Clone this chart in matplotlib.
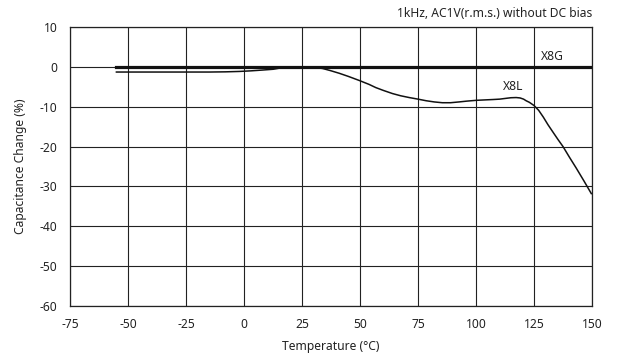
import matplotlib
matplotlib.use('Agg')
import matplotlib.pyplot as plt

# temperature characteristic
x8g_temp = [-55, 150]
x8g_cap = [0, 0]

x8l_temp = [-55, -40, -25, -15, -8, -2, 3, 8, 12.6, 15, 16.9, 18.5, 22, 26,
            28.8, 31, 33.8, 37, 41, 45, 49.6, 53.9, 56.8, 60, 64, 67.5, 71.2,
            75, 78.5, 82, 85.5, 89, 92.7, 96, 100, 103.5, 107.2, 110.2, 112.9,
            115, 117.3, 119, 120.5, 121.6, 123, 125, 127, 129, 131, 133.2,
            135.3, 137.5, 140.3, 143.2, 146.5, 149.7]
x8l_cap = [-1.3, -1.3, -1.3, -1.3, -1.25, -1.15, -1.0, -0.8, -0.6, -0.35,
           -0.12, -0.02, 0, 0, -0.05, -0.2, -0.4, -0.9, -1.6, -2.4, -3.4,
           -4.4, -5.2, -5.9, -6.7, -7.25, -7.7, -8.1, -8.5, -8.8, -9.0, -9.0,
           -8.8, -8.6, -8.4, -8.3, -8.2, -8.1, -7.9, -7.75, -7.7, -7.8, -8.1,
           -8.5, -8.9, -9.7, -10.9, -12.6, -14.5, -16.4, -18.2, -20.0, -22.7,
           -25.4, -28.6, -31.8]

xticks = [-75, -50, -25, 0, 25, 50, 75, 100, 125, 150]
yticks = [10, 0, -10, -20, -30, -40, -50, -60]

plt.rcParams['font.family'] = ['Noto Sans', 'DejaVu Sans']
plt.rcParams['axes.unicode_minus'] = False

fs = 8.7
fig = plt.figure(figsize=(6.19, 3.6), dpi=100)
ax = fig.add_axes([0.1131, 0.15, 0.8433, 0.775])

ax.plot(x8g_temp, x8g_cap, color='#111111', linewidth=2.3, zorder=4)
ax.plot(x8l_temp, x8l_cap, color='#111111', linewidth=1.1, zorder=3,
        solid_joinstyle='round')

ax.set_xlim(-75, 150)
ax.set_ylim(-60, 10)
ax.set_xticks(xticks)
ax.set_yticks(yticks)
ax.grid(True, color='#222222', linewidth=0.8)
ax.set_axisbelow(True)
ax.tick_params(length=0, pad=9, labelsize=fs, colors='#222222')
for s in ax.spines.values():
    s.set_color('#222222')
    s.set_linewidth(0.9)

ax.text(133, 0.9, 'X8G', ha='center', va='bottom', fontsize=fs, color='#222222')
ax.text(116, -6.6, 'X8L', ha='center', va='bottom', fontsize=fs, color='#222222')

ax.set_xlabel('Temperature (°C)', fontsize=fs, labelpad=6, color='#222222')
ax.set_ylabel('Capacitance Change (%)', fontsize=fs, labelpad=9, color='#222222')
ax.text(1.0, 1.025, '1kHz, AC1V(r.m.s.) without DC bias', transform=ax.transAxes,
        ha='right', va='bottom', fontsize=fs, color='#222222')

fig.savefig('out.png', dpi=100)
